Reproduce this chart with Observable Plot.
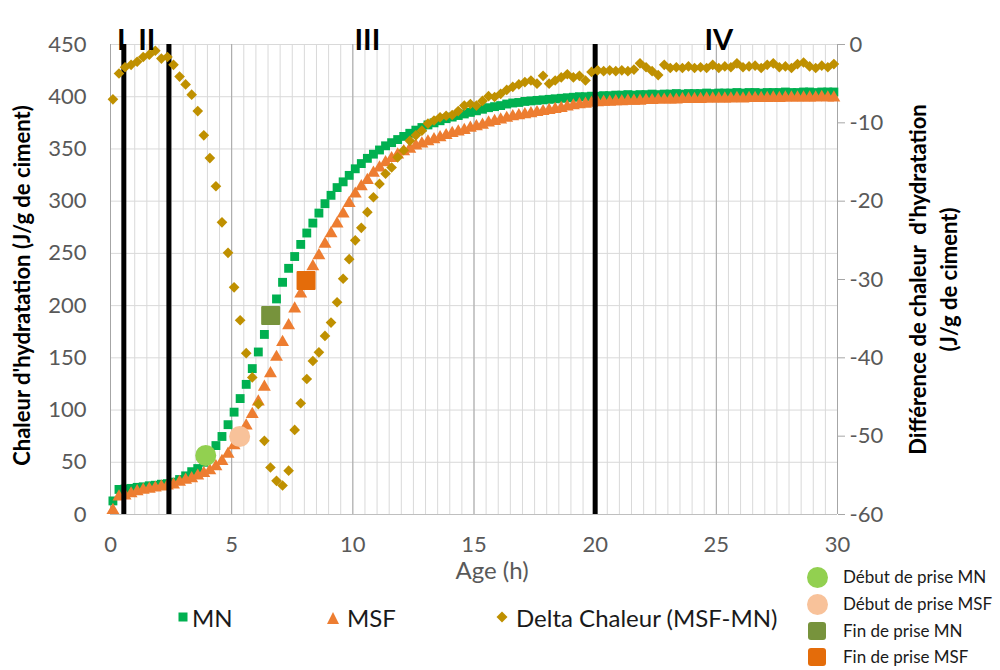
<!DOCTYPE html>
<html><head><meta charset="utf-8">
<script src="https://cdn.jsdelivr.net/npm/d3@7"></script>
<script src="https://cdn.jsdelivr.net/npm/@observablehq/plot@0.6"></script>
<style>
body{margin:0;background:#fff;font-family:Lato,"Open Sans",sans-serif;}
#wrap{position:relative;width:1000px;height:670px;overflow:hidden;}
#wrap svg{position:absolute;left:0;top:0;}
.lg{position:absolute;white-space:nowrap;color:#1a1a1a;}
</style></head><body><div id="wrap"></div>
<script>
// ---- data ----
const age = [0.1,0.35,0.6,0.85,1.1,1.35,1.6,1.85,2.1,2.35,2.6,2.85,3.1,3.35,3.6,3.85,4.1,4.35,4.6,4.85,5.1,5.35,5.6,5.85,6.1,6.35,6.6,6.85,7.1,7.35,7.6,7.85,8.1,8.35,8.6,8.85,9.1,9.35,9.6,9.85,
10.1,10.35,10.6,10.85,11.1,11.35,11.6,11.85,12.1,12.35,12.6,12.85,13.1,13.35,13.6,13.85,14.1,14.35,14.6,14.85,15.1,15.35,15.6,15.85,16.1,16.35,16.6,16.85,17.1,17.35,17.6,17.85,18.1,18.35,18.6,18.85,19.1,19.35,19.6,19.85,
20.1,20.35,20.6,20.85,21.1,21.35,21.6,21.85,22.1,22.35,22.6,22.85,23.1,23.35,23.6,23.85,24.1,24.35,24.6,24.85,25.1,25.35,25.6,25.85,26.1,26.35,26.6,26.85,27.1,27.35,27.6,27.85,28.1,28.35,28.6,28.85,29.1,29.35,29.6,29.85];

const mn = [13,24,24.5,25,26,26.5,27.5,28,29,29.5,
31,33.5,37,41,44,50,57,66,74.7,86,
98,111,124.6,139.7,155.6,172.4,190,206.4,222.3,235.7,
247,258.6,269.5,279,288.6,297.6,305.6,313,318.5,324.7,
331,336,341,345,349,353,356,359,362,365,
368,370.5,373,375,377,379,380.5,382,383.5,385,
386.5,388,389.5,390.5,391.5,393,394,394.5,395.5,396,
396.5,397,397.5,398,398.5,399,399.5,400,400,400.5,
400.5,401,401,401.5,401.5,402,401.5,402,402,402.5,
402,402.5,402.5,403,402.5,403,403,403,403.5,403,
403.5,403.5,403.5,404,403.5,404,404,403.5,404,404,
404,404.5,404,404,404.5,404.5,404,404.5,404.5,404.5];

const msf = [4,17,18,20,22,23.5,24.5,25.5,26.5,27.5,
28.5,31,33,34.5,37,39.5,42,46,51,58,
66,75,85,96,108,122,135,150.7,165,181,
197,211.4,224,237.5,248,259,269,278.4,288,298,
307,314,320,327,332,337,341,344.5,347.5,350,
353,355,357,359,361,363,365,366.5,368,370,
371.5,373,375,376.5,378,379.5,381,382,383,384,
385,386,387,388,389,390.5,391.5,392.5,393,394,
394.5,395,395,395.5,395.5,396,396,396,396.5,396.5,
397,397,397,397,397.5,397.5,397.5,397.5,398,398,
398,398,398,398.5,398,398.5,398.5,398.5,398.5,399,
398.5,399,399,399,399,399,399,399.5,399,399];

const delta = [-7.0,-3.7,-2.9,-2.6,-2.2,-1.6,-1.3,-0.8,-1.8,-1.6,
-2.6,-4.1,-5.1,-6.4,-8.5,-11.6,-14.5,-18.1,-22.7,-26.6,
-31.0,-35.2,-39.4,-42.5,-45.9,-50.6,-54.0,-55.7,-56.3,-54.4,
-49.2,-45.8,-42.7,-40.4,-39.3,-37.2,-35.5,-32.9,-29.9,-27.4,
-25.0,-23.4,-21.4,-19.5,-17.8,-16.5,-15.7,-14.4,-13.5,-12.3,
-11.6,-11.0,-10.1,-9.7,-9.3,-9.1,-9.0,-8.5,-7.8,-7.6,
-7.8,-7.2,-6.6,-6.7,-6.3,-5.8,-5.4,-5.1,-4.8,-4.6,
-5.0,-4.0,-5.0,-4.6,-4.2,-3.8,-4.2,-4.0,-4.6,-3.5,
-3.3,-3.4,-3.3,-3.4,-3.3,-3.4,-3.2,-2.4,-2.9,-3.4,
-3.9,-2.6,-3.0,-2.9,-3.0,-2.8,-3.0,-2.9,-3.0,-2.6,
-3.0,-2.8,-2.9,-2.4,-2.9,-2.8,-2.7,-3.0,-2.6,-2.4,
-2.9,-2.8,-3.0,-2.5,-2.3,-2.8,-3.0,-2.7,-2.9,-2.5];

const setNames = ["Début de prise MN","Début de prise MSF","Fin de prise MN","Fin de prise MSF"];
const setAge = [3.93, 5.33, 6.61, 8.07];
const setHeat = [56.5, 74.7, 190.6, 224];
const setColors = ["#92d050","#f8c29a","#77933c","#e46c0a"];
const setShapes = ["circle","circle","square","square"];

const seriesNames = ["MN","MSF","Delta Chaleur (MSF-MN)"];
const seriesColors = ["#00b050","#ed7d31","#bf9000"];

const phaseLabels = ["I","II","III","IV"];
const phaseLabelAge = [0.45, 1.5, 10.6, 25.1];
const phaseBounds = [0.55, 2.41, 20];

const xTicks = [0,5,10,15,20,25,30];
const yTicks = [0,50,100,150,200,250,300,350,400,450];
const rightTicks = [-60,-50,-40,-30,-20,-10,0];

const xTitle = "Age (h)";
const yTitle = "Chaleur d'hydratation (J/g de ciment)";
const y2Title = ["Différence de chaleur  d'hydratation", "(J/g de ciment)"];

// right axis (-60..0) mapped onto left scale (0..450)
const toLeft = d => (d + 60) * 450 / 60;
const fromLeft = v => v * 60 / 450 - 60;

const rows = age.map((t, i) => ({t, mn: mn[i], msf: msf[i], d: toLeft(delta[i])}));
const setRows = setNames.map((n, i) => ({name: n, t: setAge[i], v: setHeat[i], c: setColors[i], s: setShapes[i]}));
const minorX = d3.range(0, 30.01, 0.5);

const chart = Plot.plot({
  width: 1000, height: 670,
  marginLeft: 110, marginRight: 163, marginTop: 44, marginBottom: 156,
  style: {fontFamily: "Lato, sans-serif", background: "transparent", overflow: "visible"},
  x: {domain: [0, 30]},
  y: {domain: [0, 450]},
  color: {type: "identity"},
  marks: [
    Plot.gridX(minorX, {stroke: "#d9d9d9", strokeOpacity: 1}),
    Plot.gridY(yTicks, {stroke: "#d9d9d9", strokeOpacity: 1}),
    Plot.gridX(xTicks, {stroke: "#a6a6a6", strokeOpacity: 1}),
    Plot.ruleY([0], {stroke: "#bfbfbf"}),
    Plot.dot(rows, {x: "t", y: "mn", symbol: "square", r: 5, fill: seriesColors[0]}),
    Plot.dot(rows, {x: "t", y: "msf", symbol: "triangle", r: 4.8, fill: seriesColors[1]}),
    Plot.ruleX(phaseBounds, {stroke: "black", strokeWidth: 5}),
    Plot.dot(rows, {x: "t", y: "d", symbol: "diamond2", r: 4.8, fill: seriesColors[2]}),
    Plot.dot(setRows.filter(d => d.s === "circle"), {x: "t", y: "v", symbol: "circle", r: 10.5, fill: "c"}),
    Plot.dot(setRows.filter(d => d.s === "square"), {x: "t", y: "v", symbol: "square", r: 9.6, fill: "c", stroke: "c", strokeWidth: 2, strokeLinejoin: "round"}),
    Plot.text(phaseLabels, {x: phaseLabelAge, frameAnchor: "top", dy: -15, fontSize: 29, fontWeight: "bold", fill: "black"}),
    Plot.axisX(xTicks, {tickSize: 0, tickPadding: 22, fontSize: 22, fill: "#595959", label: null}),
    Plot.axisY(yTicks, {anchor: "left", tickSize: 0, tickPadding: 24, fontSize: 22, fill: "#595959", label: null}),
    Plot.axisY(rightTicks.map(toLeft), {anchor: "right", tickSize: 7, tickPadding: 5, stroke: "#a6a6a6", fontSize: 22, fill: "#595959", label: null,
      tickFormat: v => String(Math.round(fromLeft(v)))}),
    Plot.text([xTitle], {frameAnchor: "bottom", dx: 18, dy: 64, fontSize: 24, fill: "#595959"}),
    Plot.text([yTitle], {frameAnchor: "left", textAnchor: "middle", dx: -88, dy: 6, rotate: -90, fontSize: 22, fontWeight: "bold", fill: "black"}),
    Plot.text([y2Title[0]], {frameAnchor: "right", textAnchor: "middle", dx: 81, dy: 0, rotate: -90, fontSize: 22, fontWeight: "bold", fill: "black"}),
    Plot.text([y2Title[1]], {frameAnchor: "right", textAnchor: "middle", dx: 112, dy: 0, rotate: -90, fontSize: 22, fontWeight: "bold", fill: "black"})
  ]
});
const wrap = document.getElementById("wrap");
wrap.appendChild(chart);

// ---- bottom legend (series) ----
const seriesMarker = [
  '<svg width="12" height="12"><rect x="1.5" y="1.5" width="9" height="9" fill="#00b050"/></svg>',
  '<svg width="14" height="14"><polygon points="7,1 13,13 1,13" fill="#ed7d31"/></svg>',
  '<svg width="12" height="12"><polygon points="6,0.5 11.5,6 6,11.5 0.5,6" fill="#bf9000"/></svg>'
];
const legMarkerX = [184, 333, 503];
const legTextX = [192, 347, 516];
seriesNames.forEach((n, i) => {
  const m = document.createElement("div");
  m.className = "lg";
  m.style.left = (legMarkerX[i] - 7) + "px";
  m.style.top = (618 - 7) + "px";
  m.style.lineHeight = "0";
  m.innerHTML = seriesMarker[i];
  wrap.appendChild(m);
  const t = document.createElement("div");
  t.className = "lg";
  t.style.left = legTextX[i] + "px";
  t.style.top = (618 - 15) + "px";
  t.style.fontSize = "24px";
  t.style.lineHeight = "30px";
  t.textContent = n;
  wrap.appendChild(t);
});

// ---- right legend (setting points) ----
const setLegY = [577, 604, 631, 657];
setRows.forEach((d, i) => {
  const sw = document.createElement("div");
  sw.className = "lg";
  const size = d.s === "circle" ? 21 : 18;
  sw.style.width = size + "px";
  sw.style.height = size + "px";
  sw.style.left = (817 - size / 2) + "px";
  sw.style.top = (setLegY[i] - size / 2) + "px";
  sw.style.background = d.c;
  sw.style.borderRadius = d.s === "circle" ? "50%" : "3px";
  wrap.appendChild(sw);
  const t = document.createElement("div");
  t.className = "lg";
  t.style.left = "843px";
  t.style.top = (setLegY[i] - 12) + "px";
  t.style.fontSize = "17px";
  t.style.lineHeight = "24px";
  t.textContent = d.name;
  wrap.appendChild(t);
});
</script></body></html>
